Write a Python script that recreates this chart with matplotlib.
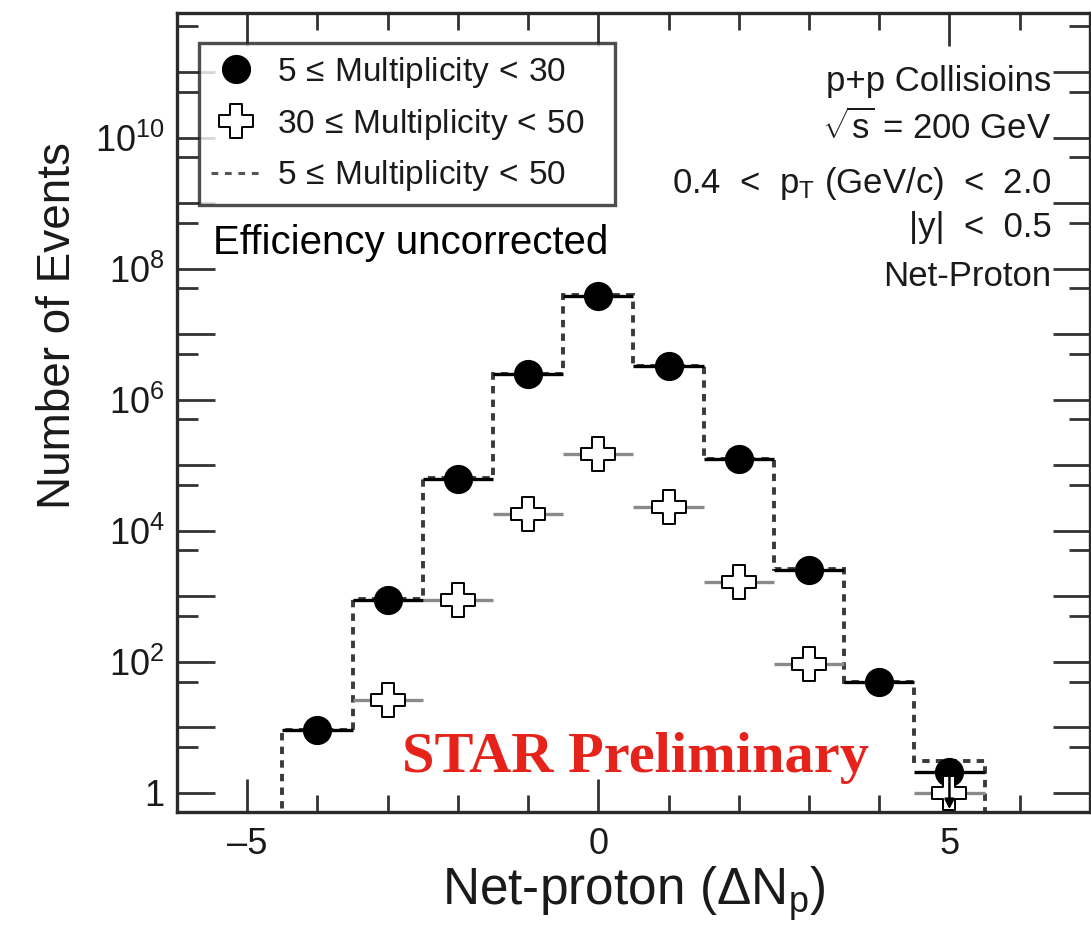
import matplotlib
matplotlib.use('Agg')
import matplotlib.pyplot as plt
import matplotlib.ticker as ticker
from matplotlib.path import Path
from matplotlib.lines import Line2D
import numpy as np

plt.rcParams['font.family'] = ['Liberation Sans', 'DejaVu Sans']
plt.rcParams['mathtext.fontset'] = 'custom'
plt.rcParams['mathtext.rm'] = 'Liberation Sans'
plt.rcParams['mathtext.it'] = 'Liberation Sans:italic'

# net-proton bins and event counts per multiplicity class
net_p      = np.array([-4, -3, -2, -1, 0, 1, 2, 3, 4, 5])
mult_low   = np.array([9.0, 890, 6.2e4, 2.46e6, 3.9e7, 3.3e6, 1.24e5, 2.5e3, 49, 2.1])   # 5 <= M < 30
mult_high  = np.array([0.0, 26, 890, 1.8e4, 1.5e5, 2.3e4, 1.65e3, 93, 0.0, 1.0])         # 30 <= M < 50
mult_all   = mult_low + mult_high                                                       # 5 <= M < 50

labels = [r'5$\,\leq\,$Multiplicity$\,<\,$30',
          r'30$\,\leq\,$Multiplicity$\,<\,$50',
          r'5$\,\leq\,$Multiplicity$\,<\,$50']

info_lines = ['p+p Collisioins',
              r'$\sqrt{\rm s}$ = 200 GeV',
              r'0.4  <  p$_{\rm T}$ (GeV/c)  <  2.0',
              '|y|  <  0.5',
              'Net-Proton']

x_range = (-6, 7)
y_range = (0.51, 8e11)

# ROOT style open cross marker
a = 0.34
cross_verts = [(-a, 1), (a, 1), (a, a), (1, a), (1, -a), (a, -a), (a, -1), (-a, -1),
               (-a, -a), (-1, -a), (-1, a), (-a, a), (-a, 1)]
open_cross = Path(cross_verts, [Path.MOVETO] + [Path.LINETO] * 11 + [Path.CLOSEPOLY])

fig = plt.figure(figsize=(10.91, 9.30), dpi=100)
ax = fig.add_axes([0.1622, 0.1269, 0.8368, 0.8591])
ax.set_yscale('log')
ax.set_xlim(*x_range)
ax.set_ylim(*y_range)

# summed distribution as dashed step histogram
edges = np.append(net_p - 0.5, net_p[-1] + 0.5)
ax.stairs(mult_all, edges, baseline=1e-3, color='#3a3a3a', lw=2.8,
          linestyle=(0, (1.9, 1.6)), zorder=2)

# 5 <= M < 30 : filled circles with bin-width bars
ax.errorbar(net_p, mult_low, xerr=0.5, fmt='o', ms=20, color='black',
            elinewidth=2.4, capsize=0, zorder=4)

# 30 <= M < 50 : open crosses, empty bins skipped
has_high = mult_high > 0
ax.errorbar(net_p[has_high], mult_high[has_high], xerr=0.5, fmt='none',
            ecolor='#8a8a8a', elinewidth=2.4, capsize=0, zorder=3)
ax.plot(net_p[has_high], mult_high[has_high], linestyle='none', marker=open_cross,
        ms=24, mfc='white', mec='black', mew=1.4, zorder=5)

# lower error on the last filled point falls off the axis
ax.annotate('', xy=(net_p[-1], y_range[0]), xytext=(net_p[-1], mult_low[-1]),
            arrowprops=dict(arrowstyle='-|>', color='black', lw=1.8,
                            mutation_scale=14), zorder=6)

# ticks and frame
ax.xaxis.set_major_locator(ticker.MultipleLocator(5))
ax.xaxis.set_minor_locator(ticker.MultipleLocator(1))
ax.xaxis.set_major_formatter(ticker.FuncFormatter(lambda v, p: '\u2013%d' % -v if v < 0 else '%d' % v))

decades = [10.0 ** k for k in range(0, 12)]
ax.yaxis.set_major_locator(ticker.FixedLocator(decades))
ax.yaxis.set_minor_locator(ticker.FixedLocator([5 * d for d in decades]))


def log_label(v, pos):
    k = int(round(np.log10(v)))
    if k % 2:
        return ''
    return '1' if k == 0 else r'$10^{%d}$' % k


ax.yaxis.set_major_formatter(ticker.FuncFormatter(log_label))
ax.yaxis.set_minor_formatter(ticker.NullFormatter())

ax.tick_params(which='both', direction='in', top=True, right=True, color='#333333', width=2)
ax.tick_params(axis='x', which='major', length=24, labelsize=26, pad=11, labelcolor='#1a1a1a')
ax.tick_params(axis='x', which='minor', length=12)
ax.tick_params(axis='y', which='major', length=27, labelsize=26, pad=9, labelcolor='#1a1a1a')
ax.tick_params(axis='y', which='minor', length=15)
for sp in ax.spines.values():
    sp.set_linewidth(2.4)
    sp.set_color('#2a2a2a')

ax.set_xlabel(r'Net-proton ($\Delta$N$_{\rm p}$)', fontsize=37, color='#1a1a1a')
ax.xaxis.set_label_coords(0.5, -0.066)
ax.xaxis.label.set_va('top')
ax.set_ylabel('Number of Events', fontsize=33, color='#1a1a1a')
ax.yaxis.set_label_coords(-0.106, 0.609)

# legend
handles = [Line2D([], [], linestyle='none', marker='o', ms=20, color='black'),
           Line2D([], [], linestyle='none', marker=open_cross, ms=24, mfc='white',
                  mec='black', mew=1.4),
           Line2D([], [], color='#555555', lw=2.2, linestyle=(0, (2.2, 2.2)))]
leg = ax.legend(handles, labels, loc='upper left', bbox_to_anchor=(0.024, 0.753, 0.456, 0.209),
                mode='expand', borderaxespad=0, fontsize=24, frameon=True, fancybox=False,
                borderpad=0.35, labelspacing=0.5, handlelength=1.5, handletextpad=0.5,
                labelcolor='#1a1a1a')
leg.get_frame().set_edgecolor('#222222')
leg.get_frame().set_linewidth(2.4)

ax.text(0.039, 0.712, 'Efficiency uncorrected', transform=ax.transAxes,
        fontsize=29, ha='left', va='center', color='black')

info_y = [0.914, 0.856, 0.787, 0.732, 0.670]
for txt, yy in zip(info_lines, info_y):
    ax.text(0.958, yy, txt, transform=ax.transAxes, fontsize=25,
            ha='right', va='center', color='#1a1a1a')

ax.text(0.246, 0.05, 'STAR Preliminary', transform=ax.transAxes,
        fontsize=42, fontweight='bold', family='Liberation Serif',
        color='#e5231b', ha='left', va='baseline', zorder=7)

fig.savefig('out.png', dpi=100)
